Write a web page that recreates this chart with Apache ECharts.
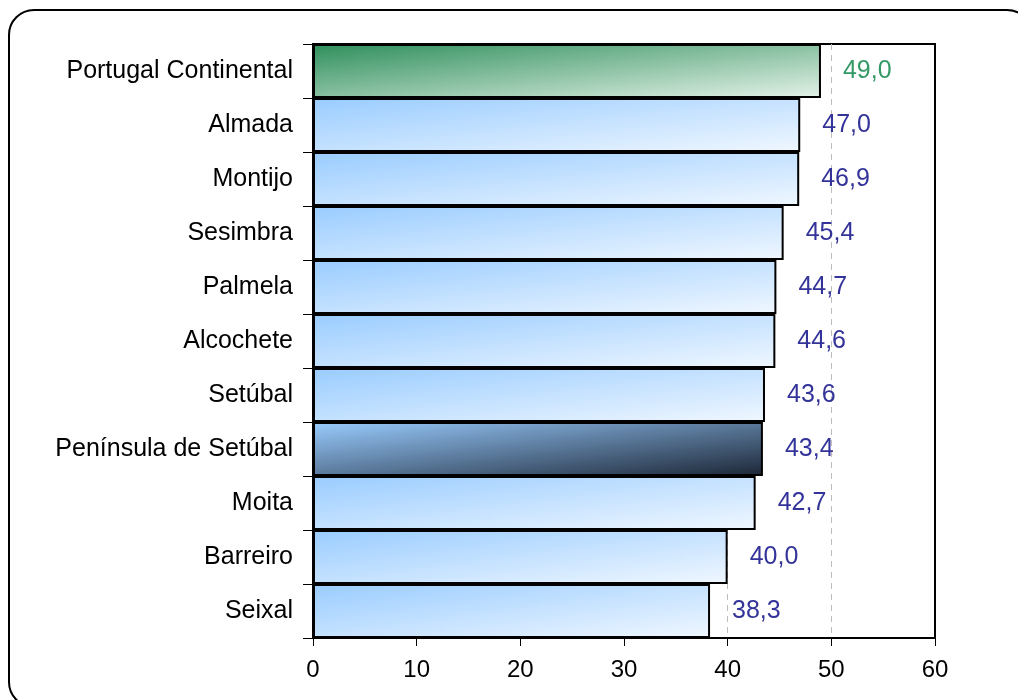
<!DOCTYPE html>
<html>
<head>
<meta charset="utf-8">
<script src="https://cdn.jsdelivr.net/npm/echarts@6/dist/echarts.min.js"></script>
<style>html,body{margin:0;padding:0;background:#fff}#c{width:1018px;height:700px}</style>
</head>
<body>
<div id="c"></div>
<script>
const categories = ["Portugal Continental","Almada","Montijo","Sesimbra","Palmela","Alcochete","Setúbal","Península de Setúbal","Moita","Barreiro","Seixal"];
const values = [49.0,47.0,46.9,45.4,44.7,44.6,43.6,43.4,42.7,40.0,38.3];
const xTicks = [0,10,20,30,40,50,60];

const FONT = '"Liberation Sans", Arial, sans-serif';
const GRID = {left:313, right:83, top:44, bottom:62};
const plotW = 1018 - GRID.left - GRID.right;
const plotH = 700 - GRID.top - GRID.bottom;
const rowH = plotH / categories.length;

function grad(v, c0, c1) {
  const w = v / xTicks[xTicks.length-1] * plotW, h = rowH;
  const d = h*h + w*w;
  return new echarts.graphic.LinearGradient(0, 0, 2*h*h/d, 2*w*w/d, [
    {offset:0, color:c0},{offset:1, color:c1}
  ]);
}

const data = values.map((v, i) => {
  const name = categories[i];
  let fill, lblColor = '#333399';
  if (name === "Portugal Continental") { fill = grad(v, '#2F8F5C', '#E4F2E8'); lblColor = '#339966'; }
  else if (name === "Península de Setúbal") { fill = grad(v, '#99CCFF', '#1C2636'); }
  else { fill = grad(v, '#99CCFF', '#F0F7FF'); }
  return { value: v, itemStyle: { color: fill }, label: { color: lblColor } };
});

const chart = echarts.init(document.getElementById('c'), null, {renderer:'canvas'});
chart.setOption({
  animation: false,
  backgroundColor: '#fff',
  graphic: [{
    type: 'rect', silent: true, z: 100,
    shape: {x: 9, y: 10, width: 1023, height: 697, r: 25},
    style: {fill: 'none', stroke: '#000', lineWidth: 2}
  }],
  grid: Object.assign({show: true, borderColor: '#000', borderWidth: 2, backgroundColor: 'transparent', containLabel: false}, GRID),
  xAxis: {
    type: 'value', min: xTicks[0], max: xTicks[xTicks.length-1], interval: 10,
    axisLine: {show: true, lineStyle: {color: '#000', width: 2}},
    axisTick: {show: true, length: 8, lineStyle: {color: '#000', width: 1}},
    axisLabel: {fontFamily: FONT, fontSize: 24, color: '#000', margin: 20},
    splitLine: {show: true, showMinLine: false, showMaxLine: false, lineStyle: {color: '#BDBDBD', type: [6, 5], width: 1}}
  },
  yAxis: {
    type: 'category', data: categories, inverse: true,
    axisLine: {show: true, lineStyle: {color: '#000', width: 2}},
    axisTick: {show: true, length: 10, lineStyle: {color: '#000', width: 1}},
    axisLabel: {fontFamily: FONT, fontSize: 25, color: '#000', margin: 20},
    splitLine: {show: false}
  },
  series: [{
    type: 'bar', data: data, barCategoryGap: '0%', barWidth: '100%',
    itemStyle: {borderColor: '#000', borderWidth: 2},
    label: {
      show: true, position: 'right', distance: 22,
      fontFamily: FONT, fontSize: 25,
      formatter: p => p.value.toFixed(1).replace('.', ',')
    }
  }]
});
</script>
</body>
</html>
